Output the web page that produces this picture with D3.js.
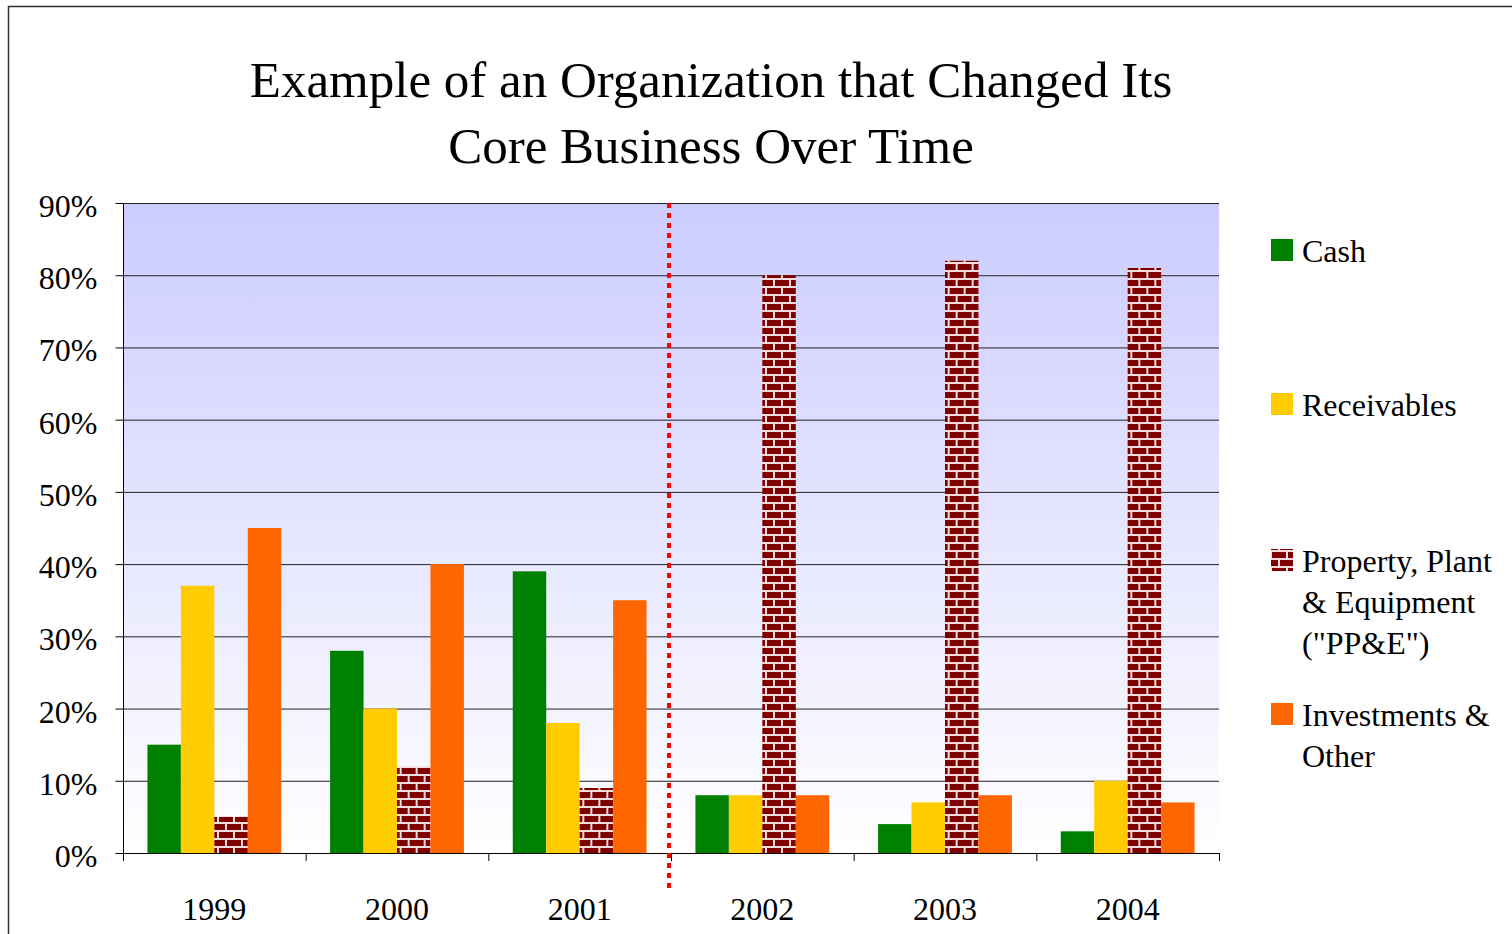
<!DOCTYPE html>
<html>
<head>
<meta charset="utf-8">
<script src="https://cdn.jsdelivr.net/npm/d3@7"></script>
<style>
body{margin:0;background:#fff;}
svg{display:block;}
text{font-family:"Liberation Serif","DejaVu Serif",serif;fill:#000;}
</style>
</head>
<body>
<svg id="chart" width="1512" height="934"></svg>
<script>
const years = ["1999","2000","2001","2002","2003","2004"];
const seriesNames = ["Cash","Receivables","Property, Plant & Equipment (\"PP&E\")","Investments & Other"];
const cash = [15,28,39,8,4,3];
const receivables = [37,20,18,8,7,10];
const ppe = [5,12,9,80,82,81];
const investments = [45,40,35,8,8,7];
const yTicks = [0,10,20,30,40,50,60,70,80,90];
const titleLines = ["Example of an Organization that Changed Its","Core Business Over Time"];
const legendLines = [["Cash"],["Receivables"],["Property, Plant","& Equipment","(\"PP&E\")"],["Investments &","Other"]];

(function(){
const seriesKeys = ["cash","receivables","ppe","investments"];
const seriesVals = {cash, receivables, ppe, investments};
const fills = {cash:"#008000", receivables:"#FFCC00", ppe:"url(#brick)", investments:"#FF6600"};

const svg = d3.select("#chart");
const defs = svg.append("defs");
const grad = defs.append("linearGradient").attr("id","bg").attr("x1",0).attr("y1",0).attr("x2",0).attr("y2",1);
grad.append("stop").attr("offset","0%").attr("stop-color","#CCCCFF");
grad.append("stop").attr("offset","100%").attr("stop-color","#FFFFFF");

const pat = defs.append("pattern").attr("id","brick").attr("patternUnits","userSpaceOnUse")
  .attr("width",16).attr("height",16);
pat.append("rect").attr("width",16).attr("height",16).attr("fill","#F2DCDC");
pat.append("rect").attr("x",0).attr("y",0).attr("width",14).attr("height",6).attr("fill","#800000");
pat.append("rect").attr("x",-8).attr("y",8).attr("width",14).attr("height",6).attr("fill","#800000");
pat.append("rect").attr("x",8).attr("y",8).attr("width",14).attr("height",6).attr("fill","#800000");

// outer frame
svg.append("rect").attr("x",8.5).attr("y",6.5).attr("width",1600).attr("height",1000)
  .attr("fill","none").attr("stroke","#333").attr("stroke-width",1.5);

const pl = 123, pr = 1219, pt = 203, pb = 853;
const x = d3.scaleBand().domain(years).range([pl,pr]).paddingInner(0).paddingOuter(0);
const y = d3.scaleLinear().domain([0,90]).range([pb,pt]);
const xs = d3.scaleBand().domain(seriesKeys).range([0,x.bandwidth()]).paddingOuter(0.73).paddingInner(0);

svg.append("rect").attr("x",pl).attr("y",pt).attr("width",pr-pl).attr("height",pb-pt).attr("fill","url(#bg)");

// gridlines
svg.append("g").selectAll("line").data(yTicks.filter(d=>d>0)).join("line")
  .attr("x1",pl).attr("x2",pr).attr("y1",d=>y(d)+0.5).attr("y2",d=>y(d)+0.5)
  .attr("stroke","#222").attr("stroke-width",1);

// bars
const groups = svg.append("g").selectAll("g").data(years).join("g")
  .attr("transform",d=>`translate(${x(d)},0)`);
groups.selectAll("rect").data((yr,i)=>seriesKeys.map(k=>({k, v:seriesVals[k][i]}))).join("rect")
  .attr("x",d=>xs(d.k)).attr("width",xs.bandwidth())
  .attr("y",d=>y(d.v)).attr("height",d=>pb-y(d.v))
  .attr("fill",d=>fills[d.k]);

// y axis
const yAxis = d3.axisLeft(y).tickValues(yTicks).tickFormat(d=>d+"%").tickSize(8).tickPadding(18);
const gy = svg.append("g").attr("transform",`translate(${pl+0.5},0)`).call(yAxis);
gy.select(".domain").attr("stroke","#000").attr("d",`M0,${pt}V${pb}`);
gy.selectAll(".tick line").attr("stroke","#000");
gy.selectAll(".tick text").attr("font-size",32).attr("font-family","Liberation Serif").attr("fill","#111").attr("dy","0.42em");

// x axis
svg.append("line").attr("x1",pl).attr("x2",pr).attr("y1",pb+0.5).attr("y2",pb+0.5).attr("stroke","#000");
const bounds = years.map(d=>x(d)).concat([pr]);
svg.append("g").selectAll("line").data(bounds).join("line")
  .attr("x1",d=>d+0.5).attr("x2",d=>d+0.5).attr("y1",pb).attr("y2",pb+8).attr("stroke","#000");
svg.append("g").selectAll("text").data(years).join("text")
  .attr("x",d=>x(d)+x.bandwidth()/2).attr("y",920).attr("text-anchor","middle")
  .attr("font-size",32).attr("fill","#111").text(d=>d);

// divider dotted line
svg.append("line").attr("x1",669).attr("x2",669).attr("y1",pt).attr("y2",891)
  .attr("stroke","#FF0000").attr("stroke-width",4).attr("stroke-dasharray","5,5");

// title
svg.append("g").selectAll("text").data(titleLines).join("text")
  .attr("x",711).attr("y",(d,i)=>97+i*66).attr("text-anchor","middle")
  .attr("font-size",51).attr("fill","#111").text(d=>d);

// legend
const legBase = [262,416,572,726];
const lg = svg.append("g");
seriesKeys.forEach((k,i)=>{
  lg.append("rect").attr("x",1271).attr("y",legBase[i]-23).attr("width",22).attr("height",22).attr("fill",fills[k]);
  legendLines[i].forEach((line,j)=>{
    lg.append("text").attr("x",1302).attr("y",legBase[i]+j*41).attr("font-size",32).attr("fill","#111").text(line);
  });
});
})();
</script>
</body>
</html>
